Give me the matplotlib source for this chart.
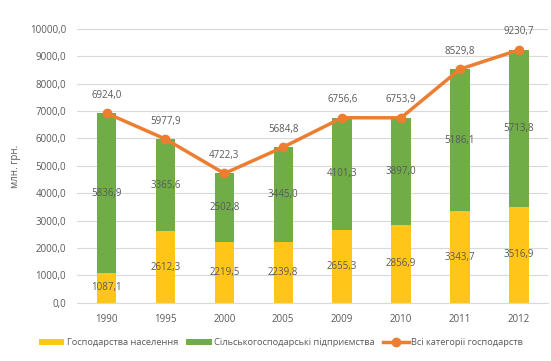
import matplotlib.pyplot as plt
import numpy as np

plt.rcParams['font.family'] = ['Open Sans', 'DejaVu Sans']

years = ['1990', '1995', '2000', '2005', '2009', '2010', '2011', '2012']
households = [1087.1, 2612.3, 2219.5, 2239.8, 2655.3, 2856.9, 3343.7, 3516.9]
enterprises = [5836.9, 3365.6, 2502.8, 3445.0, 4101.3, 3897.0, 5186.1, 5713.8]
total = [6924.0, 5977.9, 4722.3, 5684.8, 6756.6, 6753.9, 8529.8, 9230.7]

def fmt(v):
    return f'{v:.1f}'.replace('.', ',')

txt = '#595959'
fig = plt.figure(figsize=(5.51, 3.61), dpi=100)
ax = fig.add_axes([0.14, 0.161, 0.855, 0.759])

x = np.arange(len(years))
w = 0.33
b1 = ax.bar(x, households, w, color='#FFC619', label='Господарства населення', zorder=2)
b2 = ax.bar(x, enterprises, w, bottom=households, color='#70AD47',
            label='Сільськогосподарські підприємства', zorder=2)
ln, = ax.plot(x, total, color='#ED7D31', lw=2.5, marker='o', ms=6,
              label='Всі категорії господарств', zorder=3)

for i in range(len(years)):
    ax.text(x[i], households[i] / 2, fmt(households[i]), ha='center', va='center',
            fontsize=7, color=txt, zorder=4)
    ax.text(x[i], households[i] + enterprises[i] / 2, fmt(enterprises[i]),
            ha='center', va='center', fontsize=7, color=txt, zorder=4)
    ax.annotate(fmt(total[i]), (x[i], total[i]), xytext=(0, 9),
                textcoords='offset points', ha='center', va='bottom',
                fontsize=7, color=txt, zorder=4)

ax.set_ylim(0, 10000)
ax.set_yticks(np.arange(0, 10001, 1000))
ax.set_yticklabels([fmt(v) for v in np.arange(0, 10001, 1000)])
ax.set_xlim(-0.5, len(years) - 0.5)
ax.set_xticks(x)
ax.set_xticklabels(years)
ax.tick_params(length=0, labelsize=7, colors=txt, pad=8)
ax.grid(axis='y', color='#D9D9D9', lw=0.8, zorder=0)
for s in ['top', 'right', 'left']:
    ax.spines[s].set_visible(False)
ax.spines['bottom'].set_color('#D9D9D9')
ax.set_ylabel('млн. грн.', fontsize=7, color=txt, labelpad=6)

fig.legend(handles=[b1, b2, ln], loc='lower center', ncol=3, frameon=False,
           fontsize=6.7, labelcolor=txt, bbox_to_anchor=(0.51, 0.015),
           handlelength=2.7, handleheight=0.5, handletextpad=0.3,
           columnspacing=0.9)

fig.savefig('out.png', dpi=100)
